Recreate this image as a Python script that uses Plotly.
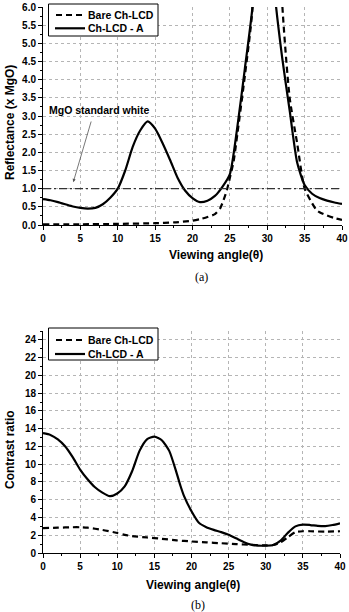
import plotly.graph_objects as go

# ---------------- data: (a) reflectance ----------------
angle_a_ref = [0, 1, 2, 3, 4, 5, 6, 7, 8, 9, 10, 11, 12, 13, 14, 15, 16, 17, 18, 19, 20,
               21, 22, 23, 24, 25, 26, 27, 28, 28.5, 29, 29.5, 30, 30.5, 31, 32, 33, 34,
               35, 36, 37, 38, 39, 40]
refl_A = [0.71, 0.68, 0.63, 0.57, 0.51, 0.47, 0.45, 0.47, 0.57, 0.75, 1.0, 1.5, 2.15, 2.6,
          2.85, 2.65, 2.25, 1.79, 1.3, 0.95, 0.74, 0.63, 0.67, 0.8, 1.05, 1.4, 2.7, 4.3,
          5.95, 7.5, 9.0, 10.0, 10.0, 9.0, 6.4, 4.6, 3.15, 1.72, 1.1, 0.86, 0.74, 0.67,
          0.62, 0.58]

angle_a_bare = [0, 5, 10, 15, 17.5, 20, 21, 22, 23, 23.7, 24, 24.6, 25, 25.5, 26, 27, 28,
                29, 30, 31, 32, 33, 34, 35, 36, 36.6, 37, 38, 39, 40]
refl_bare = [0.02, 0.02, 0.03, 0.05, 0.07, 0.12, 0.16, 0.22, 0.3, 0.46, 0.6, 0.96, 1.3,
             1.75, 2.5, 4.1, 5.9, 12.0, 15.0, 12.0, 6.1, 3.5, 2.25, 1.0, 0.6, 0.41, 0.35,
             0.26, 0.19, 0.14]

mgo_x = [0, 40]
mgo_y = [1.0, 1.0]

# ---------------- data: (b) contrast ratio ----------------
angle_b = [0, 1, 2, 3, 4, 5, 6, 7, 8, 9, 10, 11, 12, 13, 14, 15, 16, 17, 18, 18.5, 19,
           20, 21, 22, 23, 24, 25, 26, 27, 28, 29, 30, 31, 32, 33, 34, 35, 36, 37, 38, 39, 40]
cr_A = [13.5, 13.3, 12.8, 12.0, 10.8, 9.4, 8.3, 7.4, 6.8, 6.4, 6.7, 7.5, 9.2, 11.5, 12.8,
        13.1, 12.7, 11.5, 9.0, 7.6, 6.4, 4.7, 3.4, 2.9, 2.6, 2.35, 2.05, 1.65, 1.25, 0.95,
        0.83, 0.83, 0.9, 1.4, 2.3, 3.0, 3.2, 3.15, 3.05, 3.02, 3.15, 3.35]

angle_b_bare = [0, 2, 4, 5, 6, 8, 10, 11, 12, 14, 16, 18, 20, 22, 24, 26, 28, 30, 31, 32,
                33, 34, 35, 36, 38, 40]
cr_bare = [2.8, 2.85, 2.9, 2.9, 2.85, 2.6, 2.25, 2.05, 1.9, 1.75, 1.6, 1.42, 1.3, 1.2, 1.1,
           1.0, 0.92, 0.85, 0.9, 1.2, 1.8, 2.35, 2.45, 2.45, 2.4, 2.45]

series_names = ["Bare Ch-LCD", "Ch-LCD - A"]
mgo_label = "MgO standard white"

FONT = "Liberation Sans, Arial, sans-serif"
W, H = 349, 612

def px_x(p):
    return p / W

def px_y(p):
    return 1 - p / H

fig = go.Figure()
dash_style = "6px,4px"

fig.add_trace(go.Scatter(x=angle_a_bare, y=refl_bare, mode="lines", name=series_names[0],
                         line=dict(color="black", width=2.2, dash=dash_style, shape="spline", smoothing=0.6),
                         xaxis="x", yaxis="y", showlegend=False))
fig.add_trace(go.Scatter(x=angle_a_ref, y=refl_A, mode="lines", name=series_names[1],
                         line=dict(color="black", width=2.2, shape="spline", smoothing=0.6),
                         xaxis="x", yaxis="y", showlegend=False))
fig.add_trace(go.Scatter(x=mgo_x, y=mgo_y, mode="lines", name=mgo_label, showlegend=False,
                         line=dict(color="#333333", width=1.2, dash="8px,3px,2px,3px"),
                         xaxis="x", yaxis="y"))
fig.add_trace(go.Scatter(x=angle_b_bare, y=cr_bare, mode="lines", name=series_names[0],
                         line=dict(color="black", width=2.2, dash=dash_style, shape="spline", smoothing=0.6),
                         xaxis="x2", yaxis="y2", showlegend=False))
fig.add_trace(go.Scatter(x=angle_b, y=cr_A, mode="lines", name=series_names[1],
                         line=dict(color="black", width=2.2, shape="spline", smoothing=0.6),
                         xaxis="x2", yaxis="y2", showlegend=False))

tickfont = dict(family=FONT, size=10, color="black", weight="bold")
common_axis = dict(showline=True, linecolor="black", linewidth=1, mirror=False,
                   ticks="outside", ticklen=4, tickcolor="black", tickwidth=1,
                   showgrid=True, gridcolor="#b5b5b5", griddash="dot", gridwidth=1,
                   zeroline=False, tickfont=tickfont, automargin=False)

fig.update_layout(
    width=W, height=H,
    margin=dict(l=0, r=0, t=0, b=0),
    paper_bgcolor="white", plot_bgcolor="white",
    showlegend=False,
    xaxis=dict(domain=[px_x(43), px_x(342)], range=[0, 40], dtick=5, anchor="y",
               minor=dict(ticks="outside", dtick=2.5, ticklen=2, tickcolor="black", showgrid=False),
               **common_axis),
    yaxis=dict(domain=[px_y(225), px_y(7)], range=[0, 6], dtick=0.5, tickformat=".1f", anchor="x",
               minor=dict(ticks="outside", dtick=0.25, ticklen=2, tickcolor="black", showgrid=False),
               **common_axis),
    xaxis2=dict(domain=[px_x(43), px_x(340)], range=[0, 40], dtick=5, anchor="y2",
                minor=dict(ticks="outside", dtick=2.5, ticklen=2, tickcolor="black", showgrid=False),
                **common_axis),
    yaxis2=dict(domain=[px_y(553), px_y(331)], range=[0, 25], dtick=2, anchor="x2",
                minor=dict(ticks="outside", dtick=1, ticklen=2, tickcolor="black", showgrid=False),
                **common_axis),
)

title_font = dict(family=FONT, size=12, color="black", weight="bold")
serif_font = dict(family="Liberation Serif, Times New Roman, serif", size=12, color="black")
leg_font = dict(family=FONT, size=10.5, color="black", weight="bold")

def centered(text, xp, yp, font, angle=0):
    return dict(text=text, x=px_x(xp), y=px_y(yp), xref="paper", yref="paper",
                xanchor="center", yanchor="middle", textangle=angle, showarrow=False, font=font)

annotations = [
    centered("Reflectance (x MgO)", 10, 123, title_font, -90),
    centered("Contrast ratio", 10, 450, title_font, -90),
    centered("Viewing angle(\u03b8)", 216, 255, title_font),
    centered("Viewing angle(\u03b8)", 193, 585, title_font),
    centered("(a)", 201, 277, serif_font),
    centered("(b)", 198, 605, serif_font),
    dict(text=mgo_label, x=7.6, y=3.17, xref="x", yref="y", xanchor="center", yanchor="middle",
         showarrow=False, font=dict(family=FONT, size=10.5, color="black", weight="bold")),
    dict(text="", x=4.05, y=1.18, xref="x", yref="y", ax=6.5, ay=2.89, axref="x", ayref="y",
         showarrow=True, arrowhead=2, arrowsize=0.8, arrowwidth=0.8, arrowcolor="#555555"),
]

shapes = []
# manual legends (box + line samples + labels) for both panels
for (top, bot, y1, y2) in [(4, 36, 15, 28.3), (328, 360, 340, 354)]:
    shapes.append(dict(type="rect", xref="paper", yref="paper",
                       x0=px_x(48.5), x1=px_x(158), y0=px_y(bot), y1=px_y(top),
                       line=dict(color="black", width=1), fillcolor="white", layer="above"))
    shapes.append(dict(type="line", xref="paper", yref="paper",
                       x0=px_x(56), x1=px_x(83), y0=px_y(y1), y1=px_y(y1),
                       line=dict(color="black", width=2.2, dash=dash_style), layer="above"))
    shapes.append(dict(type="line", xref="paper", yref="paper",
                       x0=px_x(55), x1=px_x(85), y0=px_y(y2), y1=px_y(y2),
                       line=dict(color="black", width=2.2), layer="above"))
    annotations.append(dict(text=series_names[0], x=px_x(86), y=px_y(y1), xref="paper", yref="paper",
                            xanchor="left", yanchor="middle", showarrow=False, font=leg_font))
    annotations.append(dict(text=series_names[1], x=px_x(86), y=px_y(y2), xref="paper", yref="paper",
                            xanchor="left", yanchor="middle", showarrow=False, font=leg_font))

fig.update_layout(annotations=annotations, shapes=shapes)

fig.write_html("out.html")
